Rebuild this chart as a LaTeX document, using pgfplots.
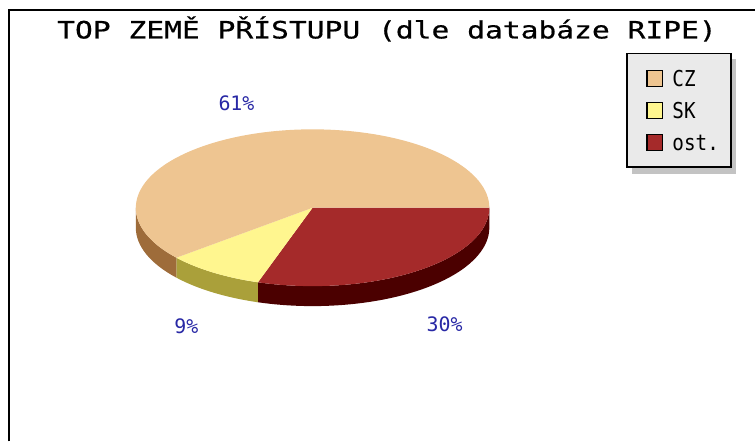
\documentclass[border=0pt]{standalone}
\usepackage{pgfplots}
\pgfplotsset{compat=1.18}
\usepackage{pgfplotstable}
\usepackage{fontspec}
\setmainfont{DejaVu Sans Mono}
\newfontfamily\titlefont[FakeStretch=1.24,FakeBold=0.6]{DejaVu Sans Mono}
\newfontfamily\legfont[FakeStretch=0.88]{DejaVu Sans Mono}
\definecolor{czTop}{RGB}{238,197,145}
\definecolor{czSide}{RGB}{158,108,58}
\definecolor{skTop}{RGB}{255,246,143}
\definecolor{skSide}{RGB}{170,160,58}
\definecolor{ostTop}{RGB}{165,42,42}
\definecolor{ostSide}{RGB}{75,0,0}
\definecolor{lblBlue}{RGB}{40,40,165}
\definecolor{legFill}{RGB}{234,234,234}
\definecolor{legShadow}{RGB}{195,195,195}

\pgfplotstableread{
label value
CZ 61
SK 9
ost. 30
}\piedata

\begin{document}
\begin{tikzpicture}
\pgfplotstablegetelem{0}{value}\of\piedata \edef\vCZ{\pgfplotsretval}
\pgfplotstablegetelem{1}{value}\of\piedata \edef\vSK{\pgfplotsretval}
\pgfplotstablegetelem{2}{value}\of\piedata \edef\vOST{\pgfplotsretval}
% slices clockwise from 3 o'clock: ost., SK, CZ
\pgfmathsetmacro\aOST{-3.6*\vOST}
\pgfmathsetmacro\aSK{\aOST-3.6*\vSK}
\pgfmathsetmacro\aCZ{\aSK-3.6*\vCZ}
\pgfmathsetmacro\mOST{\aOST/2}
\pgfmathsetmacro\mSK{(\aOST+\aSK)/2}
\pgfmathsetmacro\mCZ{(\aSK+\aCZ)/2}
\pgfmathsetmacro\xOST{313+225*cos(\mOST)}
\pgfmathsetmacro\yOST{212-115*sin(\mOST)+20*(sin(\mOST)<0)}
\pgfmathsetmacro\xSK{313+225*cos(\mSK)}
\pgfmathsetmacro\ySK{212-115*sin(\mSK)+20*(sin(\mSK)<0)}
\pgfmathsetmacro\xCZ{313+225*cos(\mCZ)}
\pgfmathsetmacro\yCZ{212-115*sin(\mCZ)+20*(sin(\mCZ)<0)}
\begin{axis}[
  width=756bp, height=442bp, scale only axis,
  xmin=0, xmax=756, ymin=0, ymax=442, y dir=reverse,
  hide axis, clip=false,
  legend cell align=left,
  legend style={at={(axis cs:627,53)}, anchor=north west,
    draw=black, line width=1.5bp, fill=legFill,
    font=\legfont\fontsize{22}{22}\selectfont,
    inner xsep=12bp, inner ysep=16bp, row sep=15bp, column sep=9bp,
    nodes={inner sep=0pt, text height=16bp, text depth=0pt}},
  legend image code/.code={\path[draw=none,fill=none] (0bp,-8bp) rectangle (24bp,8bp);
    \draw[line width=1.2bp,#1] (8bp,-8bp) rectangle (24bp,8bp);},
]
\path (axis cs:0,0) rectangle (axis cs:756,442);
% frame
\draw[line width=2bp] (axis cs:9,442) -- (axis cs:9,10) -- (axis cs:756,10);
% title
\node[anchor=base, font=\titlefont\fontsize{24}{24}\selectfont] at (axis cs:387.5,38.5)
  {TOP ZEMĚ PŘÍSTUPU (dle databáze RIPE)};
% legend shadow
\fill[legShadow] (axis cs:633,59) rectangle (axis cs:737,174);
% side walls
\fill[ostSide] (axis cs:313,208) ++(0:177bp and 78.5bp)
  arc[start angle=0, end angle=\aOST, x radius=177bp, y radius=78.5bp] -- ++(0,-20bp)
  arc[start angle=\aOST, end angle=0, x radius=177bp, y radius=78.5bp] -- cycle;
\fill[skSide] (axis cs:313,208) ++(\aOST:177bp and 78.5bp)
  arc[start angle=\aOST, end angle=\aSK, x radius=177bp, y radius=78.5bp] -- ++(0,-20bp)
  arc[start angle=\aSK, end angle=\aOST, x radius=177bp, y radius=78.5bp] -- cycle;
\fill[czSide] (axis cs:313,208) ++(\aSK:177bp and 78.5bp)
  arc[start angle=\aSK, end angle=-180, x radius=177bp, y radius=78.5bp] -- ++(0,-20bp)
  arc[start angle=-180, end angle=\aSK, x radius=177bp, y radius=78.5bp] -- cycle;
% top faces
\fill[ostTop] (axis cs:313,208) -- ++(0:177bp and 78.5bp)
  arc[start angle=0, end angle=\aOST, x radius=177bp, y radius=78.5bp] -- cycle;
\fill[skTop] (axis cs:313,208) -- ++(\aOST:177bp and 78.5bp)
  arc[start angle=\aOST, end angle=\aSK, x radius=177bp, y radius=78.5bp] -- cycle;
\fill[czTop] (axis cs:313,208) -- ++(\aSK:177bp and 78.5bp)
  arc[start angle=\aSK, end angle=\aCZ, x radius=177bp, y radius=78.5bp] -- cycle;
% percentage labels
\node[lblBlue, font=\fontsize{20}{20}\selectfont] at (axis cs:\xCZ,\yCZ) {\vCZ\%};
\node[lblBlue, font=\fontsize{20}{20}\selectfont] at (axis cs:\xSK,\ySK) {\vSK\%};
\node[lblBlue, font=\fontsize{20}{20}\selectfont] at (axis cs:\xOST,\yOST) {\vOST\%};
% legend
\addlegendimage{draw=black, fill=czTop}
\addlegendentry{CZ}
\addlegendimage{draw=black, fill=skTop}
\addlegendentry{SK}
\addlegendimage{draw=black, fill=ostTop}
\addlegendentry{ost.}
\end{axis}
\end{tikzpicture}
\end{document}
